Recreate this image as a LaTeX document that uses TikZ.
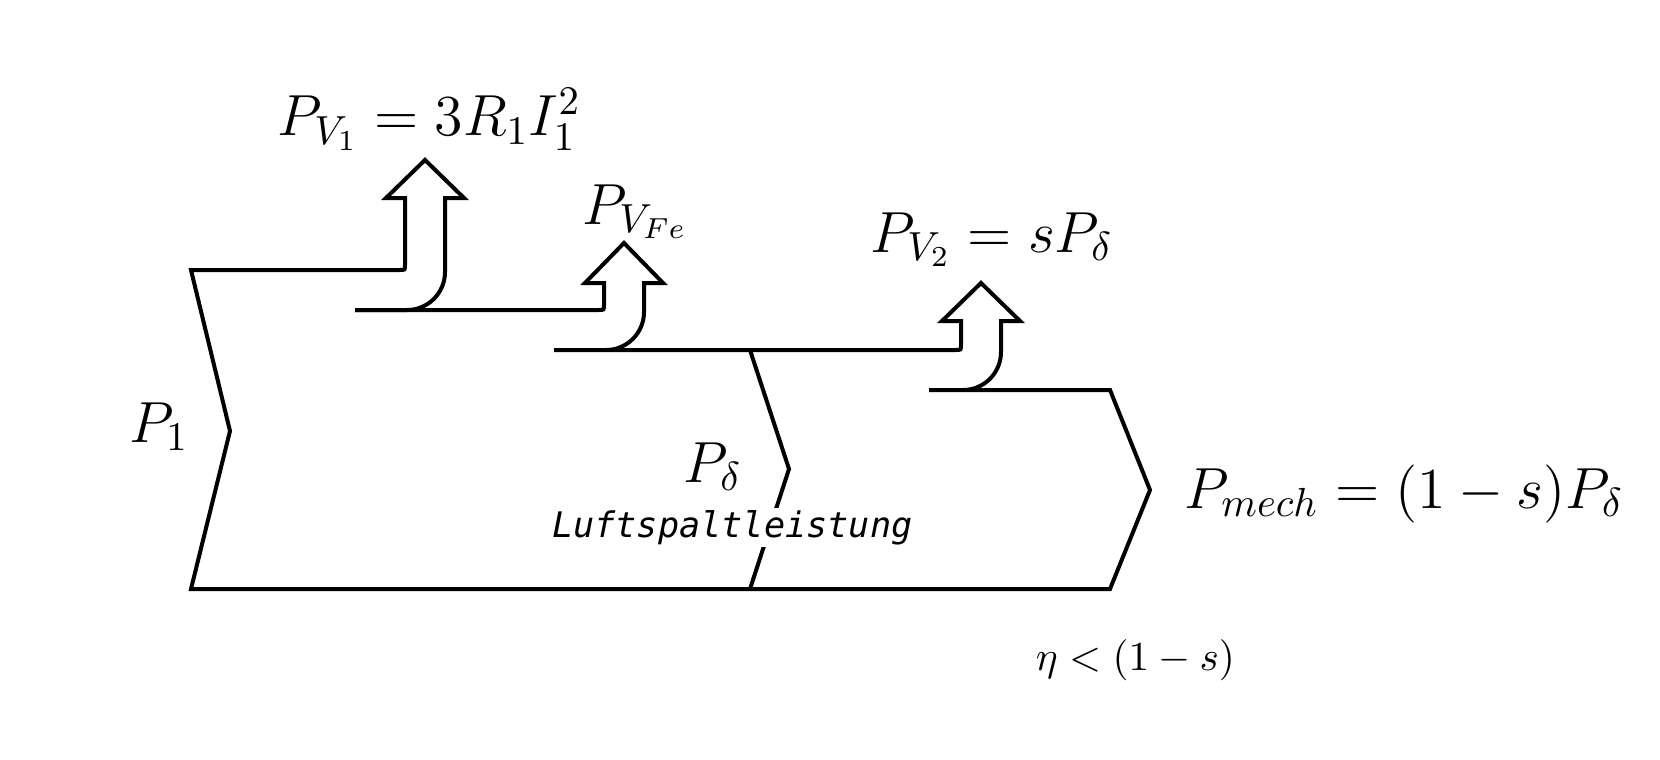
\documentclass[tikz,border=0pt]{standalone}
\usepackage{fix-cm}
\usepackage{fontspec}
\newfontfamily\luftfont{DejaVu Sans Mono}
\begin{document}
\begin{tikzpicture}[x=0.25pt,y=-0.25pt,
  flow/.style={draw=black, line width=1pt, line join=miter},
  big/.style={inner sep=0pt, anchor=base west, font=\fontsize{14.5}{17}\selectfont},
  small/.style={inner sep=0pt, anchor=base west, font=\fontsize{10.3}{12}\selectfont},
  note/.style={inner sep=0.6pt, anchor=base west, fill=white, font=\luftfont\itshape\fontsize{8.8}{10}\selectfont}]
\useasboundingbox (0,0) rectangle (1660,760);
% outline with first loss arrow
\draw[flow] (355,310) -- (407,310) .. controls (428,310) and (445,293) .. (445,272)
  -- (445,198) -- (464,198) -- (425,160) -- (386,198) -- (405,198)
  -- (405,265) .. controls (405,270) .. (400,270) -- (191,270)
  -- (230,431) -- (191,589) -- (1110,589) -- (1150,490) -- (1110,390) -- (929,390);
% second loss arrow (iron)
\draw[flow] (355,310) -- (599,310) .. controls (604,310) .. (604,305)
  -- (604,283) -- (585,283) -- (624,243) -- (663,283) -- (644,283)
  -- (644,312) .. controls (644,333) and (627,350) .. (606,350);
% third loss arrow (rotor copper)
\draw[flow] (554,350) -- (956,350) .. controls (961,350) .. (961,345)
  -- (961,321) -- (942,321) -- (981,283) -- (1020,321) -- (1001,321)
  -- (1001,352) .. controls (1001,373) and (984,390) .. (963,390);
% air gap boundary
\draw[flow] (750,350) -- (789,469) -- (750,589);
% labels
\node[big] (pv1) at (277,136) {$P_{V_1} = 3R_1I_1^2$};
\node[big] (pvfe) at (582,224) {$P_{V_{Fe}}$};
\node[big] (pv2) at (870,252) {$P_{V_2} = sP_\delta$};
\node[big] (p1) at (129,442) {$P_1$};
\node[big] (pd) at (683,482) {$P_\delta$};
\node[note] (luft) at (549,537) {Luftspaltleistung};
\node[big] (pmech) at (1184,508) {$P_{mech} = (1-s)P_\delta$};
\node[small] (eta) at (1035,670) {$\eta < (1-s)$};
\end{tikzpicture}
\end{document}
